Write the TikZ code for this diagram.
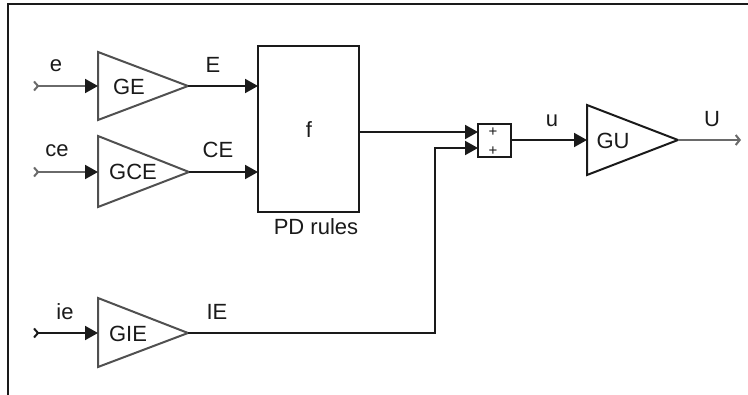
\documentclass[tikz,border=0pt]{standalone}
\usepackage{fontspec}
\setmainfont{Liberation Sans}
\usetikzlibrary{arrows.meta}
\definecolor{ink}{HTML}{1A1A1A}
\definecolor{tri}{HTML}{505050}
\definecolor{grayline}{HTML}{6A6A6A}
\tikzset{
  lbl/.style={inner sep=0pt, anchor=base, text=ink, font=\fontsize{22}{25}\selectfont},
  plus/.style={inner sep=0pt, anchor=base, text height=9pt, text depth=0pt, text=ink, font=\fontsize{15}{16}\selectfont},
  sig/.style={line width=2pt, draw=ink, -{Triangle[length=13pt,width=14pt]}},
  insig/.style={line width=2pt, {Straight Barb[reversed,length=4pt,width=9pt]}-{Triangle[length=13pt,width=14pt,color=ink]}},
  outsig/.style={line width=2pt, draw=grayline, -{Straight Barb[length=4pt,width=10pt]}},
  gainline/.style={line width=2pt, draw=tri, line join=miter},
  blk/.style={line width=2pt, draw=ink}
}
\begin{document}
\begin{tikzpicture}[x=1pt,y=-1pt]
\useasboundingbox (0,0) rectangle (748,395);
% frame
\draw[line width=2.4pt, draw=ink] (748,4) -- (8,4) -- (8,395);

% gain triangles
\coordinate (geT) at (98,52); \coordinate (geB) at (98,120); \coordinate (geA) at (188,86); \coordinate (geI) at (98,86);
\coordinate (gceT) at (98,136); \coordinate (gceB) at (98,207); \coordinate (gceA) at (189,172); \coordinate (gceI) at (98,172);
\coordinate (gieT) at (98,298); \coordinate (gieB) at (98,367); \coordinate (gieA) at (188,333); \coordinate (gieI) at (98,333);
\coordinate (guT) at (587,105); \coordinate (guB) at (587,175); \coordinate (guA) at (678,140); \coordinate (guI) at (587,140);
\draw[gainline] (geT) -- (geA) -- (geB) -- cycle;
\draw[gainline] (gceT) -- (gceA) -- (gceB) -- cycle;
\draw[gainline] (gieT) -- (gieA) -- (gieB) -- cycle;
\draw[line width=2pt, draw=ink] (guT) -- (guA) -- (guB) -- cycle;
\node[lbl] (tGE) at (129,95) {GE};
\node[lbl] (tGCE) at (133,180) {GCE};
\node[lbl] (tGIE) at (128,342) {GIE};
\node[lbl] (tGU) at (613,149) {GU};

% PD rules block
\node[blk, minimum width=101pt, minimum height=166pt, inner sep=0pt] (f) at (308.5,129) {};
\node[lbl] (tf) at (309,138) {f};
\node[lbl] (tPD) at (316,235) {PD rules};
\coordinate (fE) at (258,86);
\coordinate (fCE) at (258,172);
\coordinate (fO) at (359,132);

% sum block
\node[blk, minimum width=33pt, minimum height=33pt, inner sep=0pt] (sum) at (494.5,140.5) {};
\node[plus] (p1) at (493,137) {+};
\node[plus] (p2) at (493,156) {+};
\coordinate (s1) at (478,132);
\coordinate (s2) at (478,148);
\coordinate (sO) at (511,140);

% inputs
\coordinate (ine) at (33,86);
\coordinate (ince) at (33,172);
\coordinate (inie) at (33,333);
\draw[insig, draw=grayline] (ine) -- (geI);
\draw[insig, draw=grayline] (ince) -- (gceI);
\draw[insig, draw=ink] (inie) -- (gieI);
\node[lbl] (te) at (56,72) {e};
\node[lbl] (tce) at (57,157) {ce};
\node[lbl] (tie) at (65,320) {ie};

% signals
\draw[sig] (geA) -- (fE);
\draw[sig] (gceA) -- (fCE);
\node[lbl] (tE) at (213,73) {E};
\node[lbl] (tCE) at (218,158) {CE};
\draw[sig] (fO) -- (s1);
\coordinate (c1) at (435,333);
\coordinate (c2) at (435,148);
\draw[sig, line join=miter] (gieA) -- (c1) -- (c2) -- (s2);
\node[lbl] (tIE) at (217,320) {IE};
\draw[sig] (sO) -- (guI);
\node[lbl] (tu) at (552,127) {u};
\coordinate (out) at (741,140);
\draw[outsig] (guA) -- (out);
\node[lbl] (tU) at (712,127) {U};
\end{tikzpicture}
\end{document}
